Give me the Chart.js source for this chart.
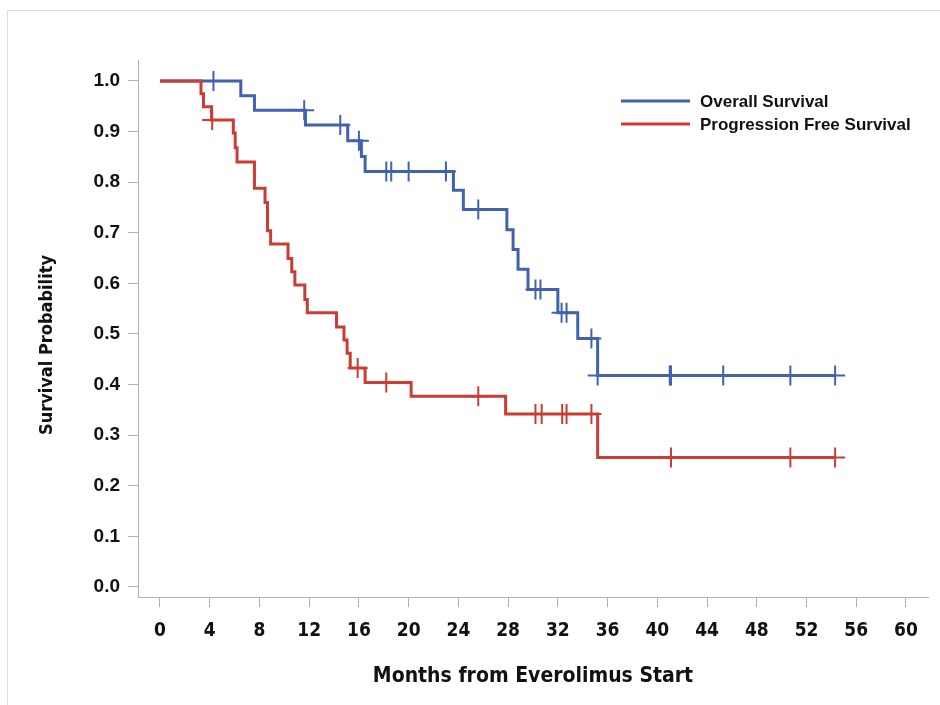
<!DOCTYPE html>
<html>
<head>
<meta charset="utf-8">
<script src="https://cdn.jsdelivr.net/npm/chart.js@4.4.0/dist/chart.umd.min.js"></script>
<style>
  html, body { margin: 0; padding: 0; background: #fff; }
  #frame { position: absolute; left: 7px; top: 10px; width: 940px; height: 700px; border: 1px solid #dcdcdc; }
  #wrap { position: absolute; left: 0; top: 0; width: 940px; height: 705px; }
</style>
</head>
<body>
<div id="frame"></div>
<div id="wrap"><canvas id="km" width="940" height="705"></canvas></div>
<script>
// Kaplan-Meier steps (time in months, survival probability)
const osTimes = [0, 6.5, 7.6, 11.7, 15.1, 16.2, 16.5, 23.6, 24.4, 27.9, 28.4, 28.8, 29.6, 32.0, 33.6, 35.2, 54.3];
const osSurv  = [1.0, 0.971, 0.942, 0.913, 0.882, 0.851, 0.821, 0.784, 0.746, 0.706, 0.667, 0.628, 0.588, 0.542, 0.491, 0.418, 0.418];
const osCensorTimes = [4.3, 11.6, 14.5, 16.0, 18.2, 18.6, 20.0, 23.0, 25.6, 30.2, 30.6, 32.3, 32.7, 34.7, 35.2, 41.0, 41.1, 45.3, 50.7, 54.3];
const osCensorSurv  = [1.0, 0.942, 0.913, 0.882, 0.821, 0.821, 0.821, 0.821, 0.746, 0.588, 0.588, 0.542, 0.542, 0.491, 0.418, 0.418, 0.418, 0.418, 0.418, 0.418];

const pfsTimes = [0, 3.3, 3.5, 4.15, 5.9, 6.05, 6.2, 7.6, 8.45, 8.65, 8.9, 10.3, 10.6, 10.85, 11.65, 11.85, 14.2, 14.8, 15.05, 15.3, 16.5, 20.2, 27.8, 35.2, 54.3];
const pfsSurv  = [1.0, 0.975, 0.949, 0.923, 0.897, 0.868, 0.840, 0.788, 0.760, 0.704, 0.678, 0.649, 0.623, 0.597, 0.568, 0.542, 0.514, 0.488, 0.462, 0.433, 0.404, 0.377, 0.342, 0.256, 0.256];
const pfsCensorTimes = [4.2, 15.9, 18.2, 25.6, 30.2, 30.7, 32.35, 32.7, 34.7, 41.1, 50.7, 54.3];
const pfsCensorSurv  = [0.923, 0.433, 0.404, 0.377, 0.342, 0.342, 0.342, 0.342, 0.342, 0.256, 0.256, 0.256];

const xTickValues = [0, 4, 8, 12, 16, 20, 24, 28, 32, 36, 40, 44, 48, 52, 56, 60];
const yTickValues = [0, 0.1, 0.2, 0.3, 0.4, 0.5, 0.6, 0.7, 0.8, 0.9, 1.0];
const seriesLabels = ['Overall Survival', 'Progression Free Survival'];

const OS_COLOR = '#4163ad';
const PFS_COLOR = '#cb3d33';
const AXIS_COLOR = '#aab4bc';
const NARROW = "'Liberation Sans Narrow', 'DejaVu Sans Condensed', 'Liberation Sans', Arial, sans-serif";
const SANS = "'Liberation Sans', Arial, sans-serif";

const zip = (xs, ys) => xs.map((x, i) => ({ x, y: ys[i] }));

const stepLine = (label, times, surv, color, order) => ({
  label, data: zip(times, surv), showLine: true, stepped: true,
  borderColor: color, borderWidth: 3, pointRadius: 0, fill: false, order
});
const censorMarks = (label, times, surv, color) => ({
  label, data: zip(times, surv), showLine: false, pointStyle: 'cross',
  pointRadius: 10, pointBorderWidth: 2, pointBorderColor: color, borderColor: color, order: 0
});

// legend and rotated y title drawn by hand to match the original placement
const extras = {
  id: 'extras',
  afterDraw(chart) {
    const ctx = chart.ctx;
    ctx.save();
    [OS_COLOR, PFS_COLOR].forEach((c, i) => {
      const y = 101 + i * 23;
      ctx.strokeStyle = c;
      ctx.lineWidth = 3;
      ctx.beginPath();
      ctx.moveTo(621, y);
      ctx.lineTo(690, y);
      ctx.stroke();
      ctx.fillStyle = '#111';
      ctx.font = 'bold 17px ' + SANS;
      ctx.textBaseline = 'middle';
      ctx.textAlign = 'left';
      ctx.fillText(seriesLabels[i], 700, y + 1);
    });
    ctx.translate(47, 345);
    ctx.rotate(-Math.PI / 2);
    ctx.font = 'bold 18px ' + NARROW;
    ctx.textAlign = 'center';
    ctx.textBaseline = 'middle';
    ctx.fillStyle = '#111';
    ctx.fillText('Survival Probability', 0, 0);
    ctx.restore();
  }
};

new Chart(document.getElementById('km'), {
  type: 'scatter',
  data: {
    datasets: [
      stepLine(seriesLabels[0], osTimes, osSurv, OS_COLOR, 2),
      stepLine(seriesLabels[1], pfsTimes, pfsSurv, PFS_COLOR, 1),
      censorMarks('OS censored', osCensorTimes, osCensorSurv, OS_COLOR),
      censorMarks('PFS censored', pfsCensorTimes, pfsCensorSurv, PFS_COLOR)
    ]
  },
  options: {
    responsive: false,
    animation: false,
    events: [],
    layout: { padding: { left: 0, top: 60, right: 11, bottom: 0 } },
    plugins: { legend: { display: false }, tooltip: { enabled: false } },
    scales: {
      x: {
        type: 'linear', min: -1.767, max: 61.77,
        afterBuildTicks: s => { s.ticks = xTickValues.map(v => ({ value: v })); },
        afterFit: s => { s.height = 108; },
        grid: { drawOnChartArea: false, drawTicks: true, tickLength: 10, color: AXIS_COLOR },
        border: { display: true, color: AXIS_COLOR, width: 1 },
        ticks: {
          color: '#111', padding: 13, maxRotation: 0, autoSkip: false,
          font: { family: NARROW, size: 19, weight: 'bold' },
          callback: v => String(v)
        },
        title: {
          display: true, text: 'Months from Everolimus Start', color: '#111',
          font: { family: NARROW, size: 21, weight: 'bold' },
          padding: { top: 0, bottom: 16 }
        }
      },
      y: {
        type: 'linear', min: -0.0198, max: 1.0415,
        afterBuildTicks: s => { s.ticks = yTickValues.map(v => ({ value: v })); },
        afterFit: s => { s.width = 138; },
        grid: { drawOnChartArea: false, drawTicks: true, tickLength: 10, color: AXIS_COLOR },
        border: { display: true, color: AXIS_COLOR, width: 1 },
        ticks: {
          color: '#111', padding: 8, autoSkip: false,
          font: { family: SANS, size: 19, weight: 'bold' },
          callback: v => v.toFixed(1)
        }
      }
    }
  },
  plugins: [extras]
});
</script>
</body>
</html>
